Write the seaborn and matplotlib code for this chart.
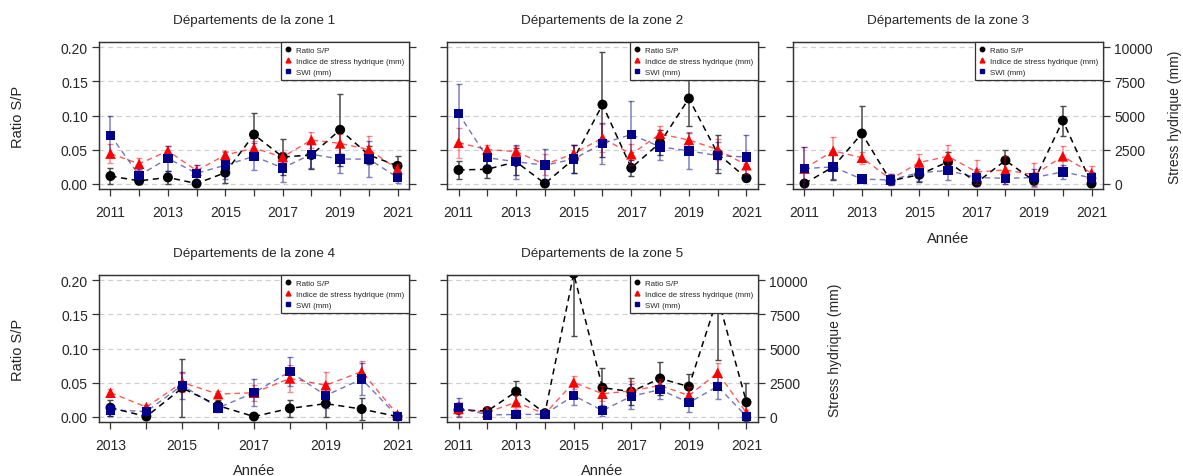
import numpy as np
import matplotlib
matplotlib.use("Agg")
import matplotlib.pyplot as plt
import seaborn as sns
from matplotlib.lines import Line2D

# Data
years_full = [2011, 2012, 2013, 2014, 2015, 2016, 2017, 2018, 2019, 2020, 2021]
years_z4 = [2013, 2014, 2015, 2016, 2017, 2018, 2019, 2020, 2021]

# zone 1
ratio_z1 = [0.011, 0.004, 0.009, 0.000, 0.016, 0.072, 0.039, 0.042, 0.079, 0.042, 0.026]
ratio_z1_err = [0.012, 0.004, 0.009, 0.001, 0.015, 0.031, 0.027, 0.020, 0.053, 0.013, 0.015]
ish_z1 = [2200, 1450, 2400, 950, 2100, 2600, 1950, 3200, 2950, 2500, 1050]
ish_z1_err = [700, 450, 350, 450, 300, 500, 400, 600, 700, 1000, 400]
swi_z1 = [3550, 600, 1850, 750, 1350, 2000, 1150, 2150, 1800, 1800, 450]
swi_z1_err = [1450, 500, 900, 600, 1000, 1000, 1050, 1000, 1000, 1350, 400]

# zone 2
ratio_z2 = [0.020, 0.021, 0.032, 0.000, 0.036, 0.116, 0.023, 0.060, 0.125, 0.044, 0.008]
ratio_z2_err = [0.013, 0.013, 0.020, 0.001, 0.020, 0.077, 0.012, 0.018, 0.040, 0.028, 0.004]
ish_z2 = [3000, 2500, 2350, 1400, 2200, 3350, 2150, 3650, 3200, 2500, 1350]
ish_z2_err = [1100, 300, 400, 750, 600, 1000, 750, 600, 600, 750, 650]
swi_z2 = [5150, 1900, 1600, 1350, 1800, 2950, 3600, 2700, 2400, 2050, 1950]
swi_z2_err = [2150, 500, 1250, 1200, 1000, 1500, 2500, 1000, 1300, 1000, 1650]

# zone 3
ratio_z3 = [0.000, 0.0245, 0.0735, 0.004, 0.013, 0.032, 0.0015, 0.034, 0.004, 0.0926, 0.000]
ratio_z3_err = [0.001, 0.020, 0.040, 0.004, 0.010, 0.015, 0.002, 0.016, 0.004, 0.022, 0.001]
ish_z3 = [1100, 2400, 1900, 320, 1550, 2000, 850, 1000, 640, 2000, 760]
ish_z3_err = [1550, 1050, 450, 400, 600, 850, 900, 1000, 900, 750, 550]
swi_z3 = [1100, 1230, 320, 270, 800, 960, 440, 390, 440, 860, 420]
swi_z3_err = [1550, 900, 300, 400, 600, 700, 600, 400, 600, 500, 400]

# zone 4 (2013-2021)
ratio_z4 = [0.013, 0.000, 0.042, 0.016, 0.000, 0.012, 0.019, 0.011, 0.000]
ratio_z4_err = [0.012, 0.001, 0.042, 0.008, 0.001, 0.012, 0.019, 0.016, 0.001]
ish_z4 = [1750, 700, 2500, 1650, 1750, 2800, 2300, 3300, 150]
ish_z4_err = [250, 150, 700, 250, 600, 1000, 1000, 750, 100]
swi_z4 = [490, 370, 2300, 640, 1750, 3300, 1550, 2750, 25]
swi_z4_err = [450, 250, 1000, 300, 1000, 1050, 900, 1150, 100]

# zone 5
ratio_z5 = [0.0098, 0.008, 0.0366, 0.005, 0.210, 0.0424, 0.0366, 0.056, 0.044, 0.175, 0.021]
ratio_z5_err = [0.005, 0.004, 0.016, 0.003, 0.092, 0.029, 0.020, 0.024, 0.018, 0.092, 0.028]
ish_z5 = [560, 320, 1050, 200, 2510, 1680, 1880, 2290, 1540, 3220, 270]
ish_z5_err = [500, 400, 500, 200, 500, 550, 700, 500, 600, 700, 200]
swi_z5 = [680, 120, 150, 170, 1540, 440, 1490, 1980, 1020, 2220, 0]
swi_z5_err = [700, 200, 100, 150, 700, 400, 900, 700, 700, 900, 100]

titles = ["Départements de la zone %d" % i for i in range(1, 6)]

sns.set_style("white")
plt.rcParams["font.family"] = ["Liberation Sans", "DejaVu Sans"]

W, H = 1183, 477
fig = plt.figure(figsize=(W / 100, H / 100), dpi=100)

# panel boxes in pixels: left, top, right, bottom
boxes = [(99, 43, 409, 190), (447, 43, 758, 190), (793, 43, 1103, 190),
         (99, 276, 409, 423), (447, 276, 758, 423)]
panels = [
    (years_full, ratio_z1, ratio_z1_err, ish_z1, ish_z1_err, swi_z1, swi_z1_err),
    (years_full, ratio_z2, ratio_z2_err, ish_z2, ish_z2_err, swi_z2, swi_z2_err),
    (years_full, ratio_z3, ratio_z3_err, ish_z3, ish_z3_err, swi_z3, swi_z3_err),
    (years_z4, ratio_z4, ratio_z4_err, ish_z4, ish_z4_err, swi_z4, swi_z4_err),
    (years_full, ratio_z5, ratio_z5_err, ish_z5, ish_z5_err, swi_z5, swi_z5_err),
]
left_labels = [True, False, False, True, False]
right_labels = [False, False, True, False, True]

frame_col = "#333333"
red = "#ff0000"
blue = "#00008b"

for i, (box, data) in enumerate(zip(boxes, panels)):
    l, t, r, b = box
    ax = fig.add_axes([l / W, 1 - b / H, (r - l) / W, (b - t) / H])
    yrs, ratio, ratio_err, ish, ish_err, swi, swi_err = data
    span = yrs[-1] - yrs[0]
    ax.set_xlim(yrs[0] - 0.04 * span, yrs[-1] + 0.04 * span)
    ax.set_ylim(-0.008, 0.208)

    for v in [0, 0.05, 0.10, 0.15, 0.20]:
        ax.axhline(v, color="#d0d0d0", lw=0.9, ls=(0, (4, 3)), zorder=0)

    # ratio S/P (left axis)
    ax.errorbar(yrs, ratio, yerr=ratio_err, fmt="none", ecolor="#4a4a4a",
                elinewidth=1.1, capsize=2, capthick=1, zorder=2)
    sns.lineplot(x=yrs, y=ratio, ax=ax, color="black", lw=1.1,
                 linestyle=(0, (4, 3)), zorder=3)
    sns.scatterplot(x=yrs, y=ratio, ax=ax, color="black", marker="o", s=52,
                    edgecolor="none", zorder=4)

    # stress index & SWI (right axis)
    ax2 = ax.twinx()
    ax2.set_ylim(-400, 10400)
    ax2.errorbar(yrs, ish, yerr=ish_err, fmt="none", ecolor=red, alpha=0.45,
                 elinewidth=1.1, capsize=2, capthick=1, zorder=2)
    sns.lineplot(x=yrs, y=ish, ax=ax2, color=red, alpha=0.65, lw=1,
                 linestyle=(0, (4, 3)), zorder=3)
    sns.scatterplot(x=yrs, y=ish, ax=ax2, color=red, marker="^", s=58,
                    edgecolor="none", zorder=4)
    ax2.errorbar(yrs, swi, yerr=swi_err, fmt="none", ecolor=blue, alpha=0.5,
                 elinewidth=1.1, capsize=2, capthick=1, zorder=2)
    sns.lineplot(x=yrs, y=swi, ax=ax2, color=blue, alpha=0.55, lw=1,
                 linestyle=(0, (4, 3)), zorder=3)
    sns.scatterplot(x=yrs, y=swi, ax=ax2, color=blue, marker="s", s=46,
                    edgecolor="none", zorder=4)

    ax.set_xticks(yrs)
    ax.set_xticklabels([str(y) if (y - yrs[0]) % 2 == 0 else "" for y in yrs])
    ax.set_yticks([0, 0.05, 0.10, 0.15, 0.20])
    if left_labels[i]:
        ax.set_yticklabels(["0.00", "0.05", "0.10", "0.15", "0.20"])
    else:
        ax.set_yticklabels([])
    ax2.set_yticks([0, 2500, 5000, 7500, 10000])
    if right_labels[i]:
        ax2.set_yticklabels(["0", "2500", "5000", "7500", "10000"])
    else:
        ax2.set_yticklabels([])

    for a in (ax, ax2):
        a.set_xlabel("")
        a.set_ylabel("")
        a.tick_params(direction="out", length=5, width=0.9, color=frame_col,
                      labelsize=10, pad=3, left=(a is ax), right=(a is ax2),
                      bottom=True)
        a.tick_params(axis="x", pad=6.5)
        for sp in a.spines.values():
            sp.set_color(frame_col)
            sp.set_linewidth(0.9)

    ax.set_title(titles[i], fontsize=9.7, pad=14)

    handles = [
        Line2D([], [], color="black", marker="o", ls="none", markersize=3.2),
        Line2D([], [], color=red, marker="^", ls="none", markersize=3.5),
        Line2D([], [], color=blue, marker="s", ls="none", markersize=3.1),
    ]
    leg = ax2.legend(handles, ["Ratio S/P", "Indice de stress hydrique (mm)", "SWI (mm)"],
                     loc="upper right", fontsize=5.7, frameon=True, fancybox=False,
                     borderaxespad=0, handlelength=0.8, handletextpad=0.6,
                     labelspacing=0.45, borderpad=0.55, framealpha=1)
    leg.get_frame().set_edgecolor(frame_col)
    leg.get_frame().set_linewidth(0.9)
    leg.set_zorder(10)

fig.text(18 / W, 1 - 117 / H, "Ratio S/P", rotation=90, ha="center", va="center", fontsize=10.5)
fig.text(18 / W, 1 - 350 / H, "Ratio S/P", rotation=90, ha="center", va="center", fontsize=10.5)
fig.text(1175 / W, 1 - 117 / H, "Stress hydrique (mm)", rotation=90, ha="center", va="center", fontsize=10)
fig.text(835 / W, 1 - 350 / H, "Stress hydrique (mm)", rotation=90, ha="center", va="center", fontsize=10)
fig.text(948 / W, 1 - 239 / H, "Année", ha="center", va="center", fontsize=10.5)
fig.text(254 / W, 1 - 471 / H, "Année", ha="center", va="center", fontsize=10.5)
fig.text(602 / W, 1 - 471 / H, "Année", ha="center", va="center", fontsize=10.5)

fig.savefig("out.png", dpi=100, facecolor="white")
